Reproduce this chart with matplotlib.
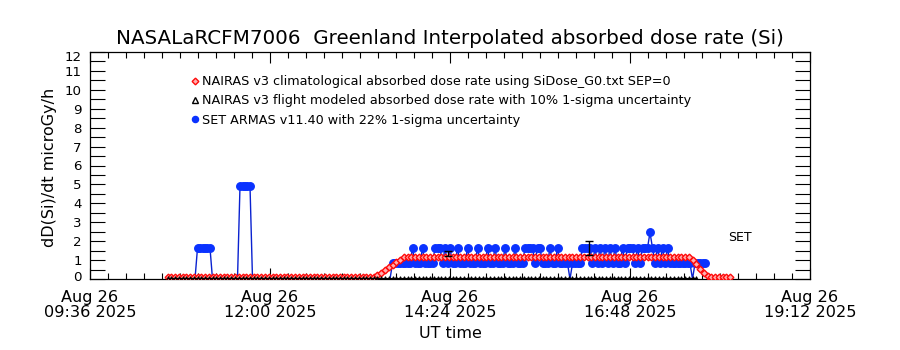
import numpy as np
import pandas as pd
import matplotlib
matplotlib.use("Agg")
import matplotlib.pyplot as plt
import matplotlib.dates as mdates
import matplotlib.transforms as mtransforms
from matplotlib.ticker import FixedLocator, MultipleLocator, FormatStrFormatter
from matplotlib.lines import Line2D

plt.rcParams['font.family'] = ['DejaVu Sans']

DAY = "2025-08-26"
x_range = ["09:36", "19:12"]
major_tick_times = ["09:36", "12:00", "14:24", "16:48", "19:12"]
minor_tick_step = "864s"          # 14.4 minutes
y_range = [0, 12]

title = "NASALaRCFM7006  Greenland Interpolated absorbed dose rate (Si)"
y_label = "dD(Si)/dt microGy/h"
x_label = "UT time"
legend_labels = [
    "NAIRAS v3 climatological absorbed dose rate using SiDose_G0.txt SEP=0",
    "NAIRAS v3 flight modeled absorbed dose rate with 10% 1-sigma uncertainty",
    "SET ARMAS v11.40 with 22% 1-sigma uncertainty",
]

# NAIRAS v3 climatological dose rate, 3-minute samples from 10:38
clim_start, clim_step = "10:38", 3
clim_values = ([0.08] * 55
               + [0.10, 0.20, 0.33, 0.47, 0.62, 0.76, 0.90, 1.00]
               + [1.15] * 77
               + [1.00, 0.78, 0.55, 0.33, 0.15]
               + [0.08] * 6)

# NAIRAS v3 flight modeled dose rate, 3-minute samples from 10:38
flight_start, flight_step = "10:38", 3
flight_values = [0.04] * 142

# SET ARMAS dose rate levels, 2-minute samples in three recorded stretches
Z, L, U, S = 0.0, 0.82, 1.64, 2.46
armas_step = 2
armas_starts = ["11:00", "11:34", "13:36"]
armas_seg1 = [Z, U, U, U, U, U, U, Z]
armas_seg2 = [Z, 4.92, 4.92, 4.92, 4.92, 4.92, Z]
armas_seg3 = [
    Z, L, L, L, L, L, L, L, L, U,
    L, L, L, U, L, L, L, L, U, U,
    U, L, U, L, U, L, L, U, L, L,
    L, U, L, L, L, U, L, L, L, U,
    L, L, U, L, L, L, U, L, L, L,
    U, L, L, L, U, U, U, U, L, U,
    U, L, L, L, U, L, L, U, L, L,
    L, L, Z, L, L, L, L, U, U, U,
    U, L, U, L, U, L, U, L, U, L,
    U, L, L, U, L, U, U, U, L, U,
    L, U, U, U, S, U, L, U, L, U,
    L, U, L, L, L, L, L, L, L, L,
    L, Z, L, L, L, L, L,
]
armas_segments = [armas_seg1, armas_seg2, armas_seg3]

# Sample points shown with their 1-sigma uncertainty bars
err_times = ["14:22", "16:15"]
err_values = [1.35, 1.64]
err_fraction = [0.10, 0.22]

set_label = "SET"

CLIM_COLOR = "#ff0a0a"
FLIGHT_COLOR = "black"
ARMAS_COLOR = "#0a32ff"
ARMAS_LINE = "#0a22d0"


def stamp(hhmm):
    return pd.Timestamp(f"{DAY} {hhmm}")


def sample_times(start, step, n):
    return pd.date_range(stamp(start), periods=n, freq=f"{step}min").to_numpy()


fig = plt.figure(figsize=(9, 3.5), dpi=100)
ax = fig.add_axes([0.1, 1 - 279 / 350, 0.8, (279 - 52) / 350])

# SET ARMAS: connecting line plus filled markers for non-zero readings
for start, seg in zip(armas_starts, armas_segments):
    t = sample_times(start, armas_step, len(seg))
    v = np.array(seg)
    ax.plot(t, v, color=ARMAS_LINE, lw=1.0, zorder=2)
    m = v > 0
    ax.plot(t[m], v[m], ls="none", marker="o", ms=5.4, color=ARMAS_COLOR,
            mec=ARMAS_COLOR, zorder=3)

# NAIRAS climatological
t_clim = sample_times(clim_start, clim_step, len(clim_values))
ax.plot(t_clim, clim_values, color=CLIM_COLOR, lw=1.2, marker="D", ms=3.4,
        mfc="#ffb0b0", mec=CLIM_COLOR, mew=1.0, zorder=4)

# NAIRAS flight modeled
t_flight = sample_times(flight_start, flight_step, len(flight_values))
ax.plot(t_flight, flight_values, color=FLIGHT_COLOR, lw=0.8, marker="^", ms=2.6,
        mfc="none", mec=FLIGHT_COLOR, mew=0.7, zorder=5)

# Uncertainty bars
t_err = np.array([stamp(s) for s in err_times], dtype="datetime64[ns]")
ev = np.array(err_values)
ax.errorbar(t_err, ev, yerr=ev * np.array(err_fraction), fmt="none",
            ecolor="black", elinewidth=1.0, capsize=3.2, capthick=1.0, zorder=6)

# Axes ranges and ticks
ax.set_xlim(stamp(x_range[0]), stamp(x_range[1]))
ax.set_ylim(*y_range)
major_num = mdates.date2num([stamp(s) for s in major_tick_times])
minor_num = mdates.date2num(pd.date_range(stamp(x_range[0]), stamp(x_range[1]),
                                          freq=minor_tick_step))
ax.xaxis.set_major_locator(FixedLocator(major_num))
ax.xaxis.set_minor_locator(FixedLocator(minor_num))
ax.xaxis.set_major_formatter(mdates.DateFormatter("%b %d\n%H:%M %Y"))
ax.yaxis.set_major_locator(MultipleLocator(1))
ax.yaxis.set_minor_locator(MultipleLocator(0.5))
ax.yaxis.set_major_formatter(FormatStrFormatter("%d"))

ax.tick_params(axis="x", which="both", direction="in", top=True, bottom=True,
               width=0.8, labelsize=11.6, pad=8)
ax.tick_params(axis="x", which="major", length=8)
ax.tick_params(axis="x", which="minor", length=4)
ax.tick_params(axis="y", which="both", direction="in", left=True, right=True,
               width=0.8, length=11, labelsize=9.6, pad=6)
for sp in ax.spines.values():
    sp.set_linewidth(0.9)

for lbl in ax.get_xticklabels():
    lbl.set_linespacing(0.95)
fig.canvas.draw()
# Nudge the end labels inward so they stay inside the frame height
for tick in ax.yaxis.get_major_ticks():
    txt = tick.label1.get_text()
    if txt == str(y_range[0]):
        dy = 3
    elif txt == str(y_range[1]):
        dy = -4
    else:
        continue
    off = mtransforms.ScaledTranslation(0, dy / 100, fig.dpi_scale_trans)
    tick.label1.set_transform(tick.label1.get_transform() + off)

# Texts
fig.text(0.5, 1 - 38 / 350, title, ha="center", va="center", fontsize=14.3)
fig.text(50 / 900, 1 - 167 / 350, y_label, rotation=90, ha="center",
         va="center", fontsize=11.5)
fig.text(0.5, 1 - 333 / 350, x_label, ha="center", va="center", fontsize=11.5)
ax.text(0.886, 0.185, set_label, transform=ax.transAxes, ha="left",
        va="center", fontsize=9)

handles = [
    Line2D([], [], ls="none", marker="D", ms=3.4, mfc="#ffb0b0", mec=CLIM_COLOR, mew=1.0),
    Line2D([], [], ls="none", marker="^", ms=3.8, mfc="none", mec=FLIGHT_COLOR, mew=1.0),
    Line2D([], [], ls="none", marker="o", ms=4.4, color=ARMAS_COLOR),
]
ax.legend(handles, legend_labels, loc="upper left",
          bbox_to_anchor=((191 - 90) / 720, (279 - 75) / 227),
          frameon=False, fontsize=9.2, handlelength=0.6, handletextpad=0.3,
          borderpad=0, borderaxespad=0, labelspacing=0.5)

fig.savefig("out.png", dpi=100)
